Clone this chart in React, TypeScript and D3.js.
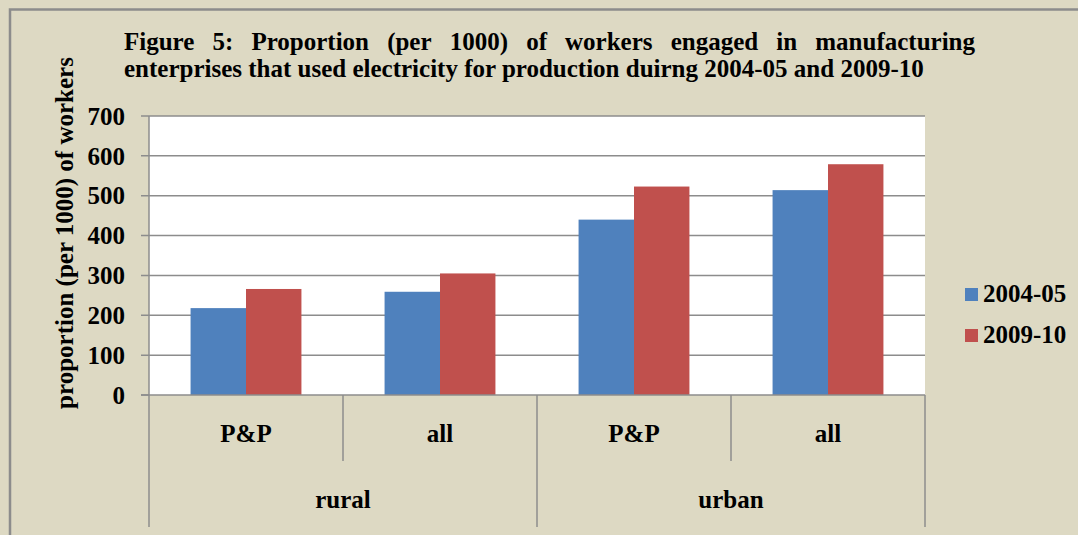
import React, { useEffect, useRef } from "react";
import * as d3 from "d3";

const groups = ["rural", "urban"];
const categories = ["rural|P&P", "rural|all", "urban|P&P", "urban|all"];
const subLabels = ["P&P", "all", "P&P", "all"];
const seriesNames = ["2004-05", "2009-10"];
const values0405 = [218, 259, 440, 514];
const values0910 = [266, 305, 523, 579];
const yTicks = [0, 100, 200, 300, 400, 500, 600, 700];
const titleLine1 = "Figure 5: Proportion (per 1000) of workers engaged in manufacturing";
const titleLine2 = "enterprises that used electricity for production duirng 2004-05 and 2009-10";
const yTitle = "proportion (per 1000) of workers";

const colors = ["#4F81BD", "#C0504D"];
const font = "'Liberation Serif', 'Times New Roman', serif";
const fs = 25;

export default function App() {
  const titleRef = useRef(null);

  const left = 149,
    right = 925,
    top = 116,
    bottom = 395;

  const x0 = d3.scaleBand().domain(categories).range([left, right]);
  const x1 = d3
    .scaleBand()
    .domain(seriesNames)
    .range([0, x0.bandwidth()])
    .paddingOuter(0.75);
  const y = d3.scaleLinear().domain([0, 700]).range([bottom, top]);

  const series = [values0405, values0910];

  useEffect(() => {
    // justify the first title line word by word
    const g = d3.select(titleRef.current);
    g.selectAll("*").remove();
    const words = titleLine1.split(" ");
    const x1t = 124,
      x2t = 975;
    const texts = g
      .selectAll("text.w")
      .data(words)
      .join("text")
      .attr("class", "w")
      .attr("y", 50)
      .attr("font-size", fs)
      .text((d) => d);
    const widths = [];
    texts.each(function () {
      widths.push(this.getComputedTextLength());
    });
    const total = d3.sum(widths);
    const gap = (x2t - x1t - total) / (words.length - 1);
    let cx = x1t;
    texts.attr("x", (d, i) => {
      const v = cx;
      cx += widths[i] + gap;
      return v;
    });
    g.append("text").attr("x", x1t).attr("y", 77).attr("font-size", fs).text(titleLine2);
  }, []);

  return (
    <svg
      width={1078}
      height={535}
      style={{ position: "absolute", left: 0, top: 0 }}
      fontFamily={font}
      fontWeight="bold"
      fill="#000"
    >
      <rect x={0} y={0} width={1078} height={535} fill="#DDD9C3" />
      <rect x={10} y={9.5} width={1080} height={540} fill="none" stroke="#8C8C8C" strokeWidth={2.5} />
      <g ref={titleRef}></g>

      <rect x={left} y={top} width={right - left} height={bottom - top} fill="#FFFFFF" />
      {yTicks.map((t) => (
        <g key={t}>
          <line x1={141} x2={t === 0 ? left : right} y1={y(t)} y2={y(t)} stroke="#8C8C8C" strokeWidth={1.5} />
          <text x={125} y={y(t)} dy="0.35em" textAnchor="end" fontSize={fs}>
            {t}
          </text>
        </g>
      ))}

      {categories.map((c, i) =>
        seriesNames.map((s, j) => (
          <rect
            key={c + s}
            x={x0(c) + x1(s)}
            y={y(series[j][i])}
            width={x1.bandwidth()}
            height={y(0) - y(series[j][i])}
            fill={colors[j]}
          />
        ))
      )}

      <line x1={left} x2={left} y1={top} y2={bottom} stroke="#8C8C8C" strokeWidth={1.5} />
      <line x1={141} x2={right} y1={bottom} y2={bottom} stroke="#8C8C8C" strokeWidth={1.5} />

      {categories.map((c, i) => (
        <g key={c}>
          <line
            x1={x0(c)}
            x2={x0(c)}
            y1={bottom}
            y2={i % 2 === 0 ? 527 : 461}
            stroke="#8C8C8C"
            strokeWidth={1.5}
          />
          <text x={x0(c) + x0.bandwidth() / 2} y={442} textAnchor="middle" fontSize={fs}>
            {subLabels[i]}
          </text>
        </g>
      ))}
      <line x1={right} x2={right} y1={bottom} y2={527} stroke="#8C8C8C" strokeWidth={1.5} />

      {groups.map((g, i) => (
        <text key={g} x={x0(categories[i * 2 + 1])} y={508} textAnchor="middle" fontSize={fs}>
          {g}
        </text>
      ))}

      <text transform={`translate(73,233) rotate(-90)`} textAnchor="middle" fontSize={fs}>
        {yTitle}
      </text>

      {seriesNames.map((s, j) => (
        <g key={s} transform={`translate(965,${288 + j * 41})`}>
          <rect x={0} y={0} width={13} height={13} fill={colors[j]} />
          <text x={18} y={13.5} fontSize={fs}>
            {s}
          </text>
        </g>
      ))}
    </svg>
  );
}
